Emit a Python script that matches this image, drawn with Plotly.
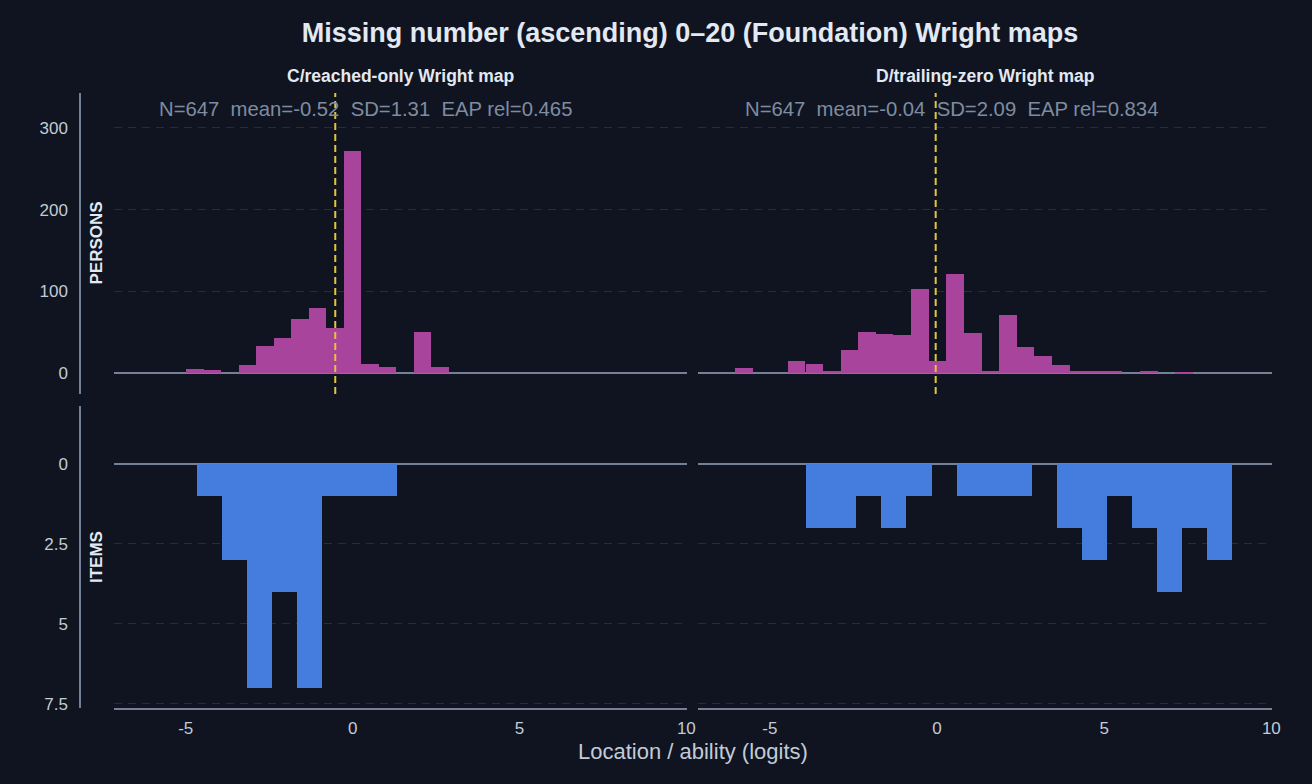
import plotly.graph_objects as go

# ---------------- data (logits / counts) ----------------
panel_titles = ["C/reached-only Wright map", "D/trailing-zero Wright map"]
stats_text = [
    "N=647  mean=-0.52  SD=1.31  EAP rel=0.465",
    "N=647  mean=-0.04  SD=2.09  EAP rel=0.834",
]
person_means = [-0.52, -0.04]

person_c_centers = [-4.718, -4.194, -3.670, -3.146, -2.622, -2.098, -1.574, -1.050,
                    -0.526, -0.002, 0.522, 1.046, 1.570, 2.094, 2.618]
person_c_counts = [5, 4, 0, 10, 34, 43, 67, 80, 55, 272, 11, 8, 0, 50, 8]
person_c_width = 0.524

person_d_centers = [-5.78, -5.25, -4.73, -4.20, -3.67, -3.15, -2.62, -2.09, -1.57,
                    -1.04, -0.51, 0.01, 0.54, 1.07, 1.59, 2.12, 2.65, 3.17, 3.70,
                    4.23, 4.76, 5.28, 5.81, 6.34, 6.86, 7.39]
person_d_counts = [6, 0, 0, 15, 11, 3, 28, 50, 48, 47, 103, 15, 121, 49, 3, 71,
                   32, 21, 10, 3, 3, 3, 0, 3, 0, 2]
person_d_width = 0.527

item_c_centers = [-4.285, -3.535, -2.785, -2.035, -1.285, -0.535, 0.215, 0.965]
item_c_counts = [1, 3, 7, 4, 7, 1, 1, 1]

item_d_centers = [-3.54, -2.79, -2.04, -1.29, -0.54, 0.21, 0.96, 1.71, 2.46, 3.21,
                  3.96, 4.71, 5.46, 6.21, 6.96, 7.71, 8.46]
item_d_counts = [2, 2, 1, 2, 1, 0, 1, 1, 1, 0, 2, 3, 1, 2, 4, 2, 3]
item_width = 0.75

x_tickvals = [-5, 0, 5, 10]
x_ticktext = ["-5", "0", "5", "10"]
person_tickvals = [0, 100, 200, 300]
item_tickvals = [0, 2.5, 5, 7.5]
item_ticktext = ["0", "2.5", "5", "7.5"]

# ---------------- style ----------------
BG = "#0f1420"
PERSON_COL = "#a8449b"
ITEM_COL = "#457ddf"
MEAN_COL = "#e3c43a"
GRID_COL = "#252d3c"
LINE_COL = "#748095"
TICK_COL = "#c3cbd6"
TITLE_COL = "#e3e9f2"
STAT_COL = "#7f8ca0"
FONT = "Liberation Sans, Arial, Helvetica, sans-serif"

fig = go.Figure()

fig.add_trace(go.Bar(x=person_c_centers, y=person_c_counts, width=person_c_width,
                     marker=dict(color=PERSON_COL, line=dict(width=0)),
                     xaxis="x", yaxis="y", showlegend=False, hoverinfo="x+y"))
fig.add_trace(go.Bar(x=person_d_centers, y=person_d_counts, width=person_d_width,
                     marker=dict(color=PERSON_COL, line=dict(width=0)),
                     xaxis="x2", yaxis="y2", showlegend=False, hoverinfo="x+y"))
fig.add_trace(go.Bar(x=item_c_centers, y=item_c_counts, width=item_width,
                     marker=dict(color=ITEM_COL, line=dict(width=0)),
                     xaxis="x3", yaxis="y3", showlegend=False, hoverinfo="x+y"))
fig.add_trace(go.Bar(x=item_d_centers, y=item_d_counts, width=item_width,
                     marker=dict(color=ITEM_COL, line=dict(width=0)),
                     xaxis="x4", yaxis="y4", showlegend=False, hoverinfo="x+y"))

W, H = 1312, 784
ML, MR, MT, MB = 80, 40, 93, 76
PW, PH = W - ML - MR, H - MT - MB


def px_x(p):
    return (p - ML) / PW


def px_y(p):
    return (H - MB - p) / PH


xL = [px_x(114), px_x(687)]
xR = [px_x(698), 1.0]
yTop = [px_y(394), 1.0]
yBot = [0.0, px_y(406)]
xrange_ = [-7.15, 10.02]

common_x_top = dict(range=xrange_, showticklabels=False, showgrid=False,
                    zeroline=False, showline=False, ticks="", fixedrange=True)
common_x_bot = dict(range=xrange_, tickvals=x_tickvals, ticktext=x_ticktext, showgrid=False,
                    zeroline=False, showline=True, linecolor=LINE_COL, linewidth=1.5,
                    ticks="outside", ticklen=4, tickcolor="rgba(0,0,0,0)",
                    tickfont=dict(size=17, color=TICK_COL, family=FONT))
ygrid = dict(showgrid=True, gridcolor=GRID_COL, gridwidth=1, griddash="8px,6px",
             zeroline=True, zerolinecolor=LINE_COL, zerolinewidth=2)

fig.update_layout(
    width=W, height=H,
    paper_bgcolor=BG, plot_bgcolor=BG,
    margin=dict(l=ML, r=MR, t=MT, b=MB),
    bargap=0,
    font=dict(family=FONT, color=TICK_COL),
    title=dict(text="<b>Missing number (ascending) 0–20 (Foundation) Wright maps</b>",
               x=px_x(690), xref="paper", xanchor="center",
               y=1 - 33 / H, yref="container", yanchor="middle",
               font=dict(size=27, color=TITLE_COL, family=FONT)),
    xaxis=dict(domain=xL, anchor="y", **common_x_top),
    xaxis2=dict(domain=xR, anchor="y2", **common_x_top),
    xaxis3=dict(domain=xL, anchor="y3", **common_x_bot),
    xaxis4=dict(domain=xR, anchor="y4", **common_x_bot),
    yaxis=dict(domain=yTop, anchor="free", position=0, range=[-25.3, 342.7],
               tickvals=person_tickvals, showline=True, linecolor=LINE_COL, linewidth=1.5,
               ticks="outside", ticklen=8, tickcolor="rgba(0,0,0,0)",
               tickfont=dict(size=17, color=TICK_COL, family=FONT), **ygrid),
    yaxis2=dict(domain=yTop, anchor="x2", matches="y", range=[-25.3, 342.7],
                tickvals=person_tickvals, showticklabels=False, showline=False,
                ticks="", **ygrid),
    yaxis3=dict(domain=yBot, anchor="free", position=0, range=[7.63, -1.81],
                tickvals=item_tickvals, ticktext=item_ticktext,
                showline=True, linecolor=LINE_COL, linewidth=1.5,
                ticks="outside", ticklen=8, tickcolor="rgba(0,0,0,0)",
                tickfont=dict(size=17, color=TICK_COL, family=FONT), **ygrid),
    yaxis4=dict(domain=yBot, anchor="x4", matches="y3", range=[7.63, -1.81],
                tickvals=item_tickvals, showticklabels=False, showline=False,
                ticks="", **ygrid),
)

annotations = []
centers = [(xL[0] + xL[1]) / 2, (xR[0] + xR[1]) / 2]
stat_x = [px_x(365), px_x(951)]
for i in range(2):
    annotations.append(dict(text="<b>" + panel_titles[i] + "</b>", x=centers[i], y=px_y(76.5),
                            xref="paper", yref="paper", xanchor="center", yanchor="middle",
                            showarrow=False, font=dict(size=17.5, color=TITLE_COL, family=FONT)))
    annotations.append(dict(text=stats_text[i], x=stat_x[i], y=px_y(109),
                            xref="paper", yref="paper", xanchor="center", yanchor="middle",
                            showarrow=False, font=dict(size=20.3, color=STAT_COL, family=FONT)))
annotations.append(dict(text="<b>PERSONS</b>", x=px_x(96), y=(yTop[0] + yTop[1]) / 2,
                        xref="paper", yref="paper", xanchor="center", yanchor="middle",
                        textangle=-90, showarrow=False,
                        font=dict(size=17, color=TITLE_COL, family=FONT)))
annotations.append(dict(text="<b>ITEMS</b>", x=px_x(96), y=(yBot[0] + yBot[1]) / 2,
                        xref="paper", yref="paper", xanchor="center", yanchor="middle",
                        textangle=-90, showarrow=False,
                        font=dict(size=17, color=TITLE_COL, family=FONT)))
annotations.append(dict(text="Location / ability (logits)", x=px_x(692.5), y=px_y(751),
                        xref="paper", yref="paper", xanchor="center", yanchor="middle",
                        showarrow=False, font=dict(size=22, color=TICK_COL, family=FONT)))
fig.update_layout(annotations=annotations)

for xa, m in zip(["x", "x2"], person_means):
    fig.add_shape(type="line", xref=xa, yref=("y domain" if xa == "x" else "y2 domain"),
                  x0=m, x1=m, y0=0, y1=1,
                  line=dict(color=MEAN_COL, width=2, dash="7px,4px"), layer="above")

fig.write_html("out.html")
